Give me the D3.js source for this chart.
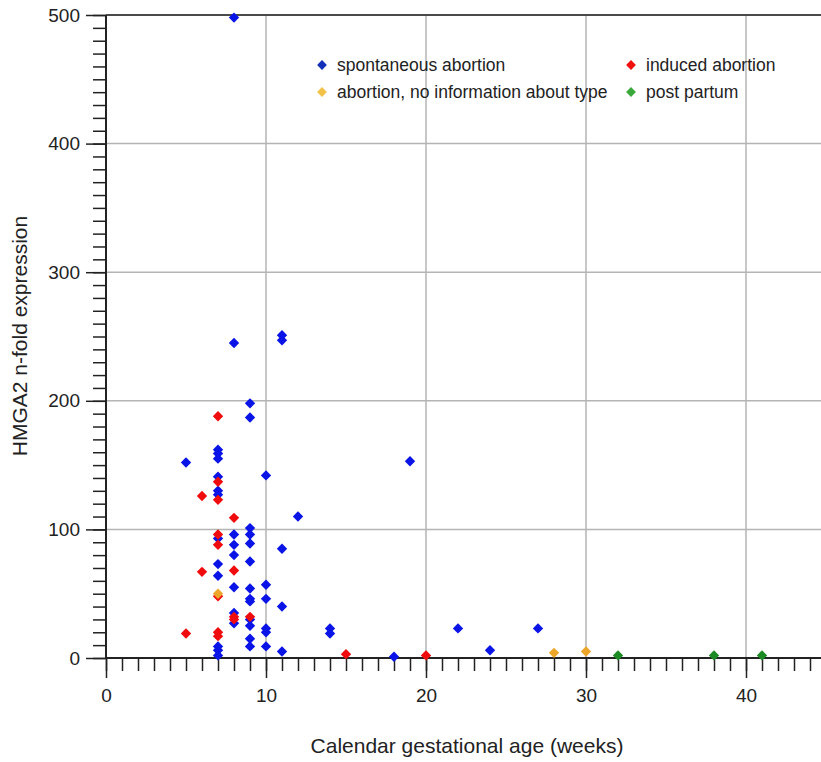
<!DOCTYPE html>
<html>
<head>
<meta charset="utf-8">
<script src="https://cdn.jsdelivr.net/npm/d3@7"></script>
<style>
  body { margin: 0; background: #fff; }
  svg { display: block; font-family: "Liberation Sans", Arial, sans-serif; }
</style>
</head>
<body>
<svg id="chart" width="821" height="762"></svg>
<script>
// [week, n-fold expression]
var spontaneous = [
    [5, 152],
    [7, 162], [7, 159], [7, 155], [7, 141], [7, 130], [7, 127], [7, 93], [7, 73], [7, 64], [7, 9], [7, 6], [7, 2],
    [8, 498], [8, 245], [8, 96], [8, 88], [8, 80], [8, 55], [8, 35], [8, 27],
    [9, 198], [9, 187], [9, 101], [9, 96], [9, 89], [9, 75], [9, 54], [9, 46], [9, 44], [9, 30], [9, 25], [9, 15], [9, 9],
    [10, 142], [10, 57], [10, 46], [10, 23], [10, 20], [10, 9],
    [11, 251], [11, 247], [11, 85], [11, 40], [11, 5],
    [12, 110], [14, 23], [14, 19], [18, 1], [19, 153], [22, 23], [24, 6], [27, 23]
];
var induced = [
    [5, 19], [6, 126], [6, 67],
    [7, 188], [7, 137], [7, 123], [7, 96], [7, 88], [7, 48], [7, 20], [7, 17],
    [8, 109], [8, 68], [8, 32], [8, 30],
    [9, 32], [15, 3], [20, 2]
];
var noInfo = [[7, 50], [28, 4], [30, 5]];
var postPartum = [[32, 2], [38, 2], [41, 2]];

var groupNames = ["spontaneous abortion", "induced abortion", "abortion, no information about type", "post partum"];
var groupColors = ["#0a14e6", "#f00c0c", "#eea62a", "#1b8a24"];
var legendColors = ["#1430b8", "#f01010", "#f2c248", "#3aa83a"];

var xMajor = [0, 10, 20, 30, 40];
var yMajor = [0, 100, 200, 300, 400, 500];

var svg = d3.select("#chart");
var x = d3.scaleLinear().domain([0, 44.6875]).range([106, 821]);
var y = d3.scaleLinear().domain([0, 500]).range([658, 15]);

// grid
var grid = svg.append("g");
grid.selectAll("line.vg")
    .data(xMajor.filter(function(d) { return d > 0; }))
    .enter().append("line")
    .attr("x1", function(d) { return x(d); })
    .attr("x2", function(d) { return x(d); })
    .attr("y1", y(500)).attr("y2", y(0))
    .attr("stroke", "#b4b4b4").attr("stroke-width", 1.5);
grid.selectAll("line.hg")
    .data(yMajor.filter(function(d) { return d > 0; }))
    .enter().append("line")
    .attr("x1", x(0)).attr("x2", 821)
    .attr("y1", function(d) { return y(d); })
    .attr("y2", function(d) { return y(d); })
    .attr("stroke", function(d) { return d == 500 ? "#4a4a4a" : "#b4b4b4"; })
    .attr("stroke-width", function(d) { return d == 500 ? 2 : 1.5; });

// axes
function styleAxis(g) {
    g.select(".domain").remove();
    g.selectAll("line").attr("stroke", "#222").attr("stroke-width", 1.5);
    g.selectAll("text").attr("fill", "#222").style("font-size", "19px");
}

var xAxisG = svg.append("g").attr("transform", "translate(0," + y(0) + ")");
xAxisG.append("g")
    .call(d3.axisBottom(x).tickValues(d3.range(0, 45)).tickSize(13).tickFormat(""))
    .call(styleAxis);
xAxisG.append("g")
    .call(d3.axisBottom(x).tickValues(xMajor).tickSize(20).tickPadding(11).tickFormat(d3.format("d")))
    .call(styleAxis);
xAxisG.append("line").attr("x1", x(0)).attr("x2", 821).attr("stroke", "#222").attr("stroke-width", 2);

var yAxisG = svg.append("g").attr("transform", "translate(" + x(0) + ",0)");
yAxisG.append("g")
    .call(d3.axisLeft(y).tickValues(d3.range(0, 501, 10)).tickSize(13).tickFormat(""))
    .call(styleAxis);
yAxisG.append("g")
    .call(d3.axisLeft(y).tickValues(yMajor).tickSize(20).tickPadding(6).tickFormat(d3.format("d")))
    .call(styleAxis);
yAxisG.append("line").attr("y1", y(0)).attr("y2", y(500)).attr("stroke", "#222").attr("stroke-width", 2);

// axis titles
svg.append("text")
    .attr("x", 467).attr("y", 753)
    .attr("text-anchor", "middle")
    .attr("fill", "#222")
    .style("font-size", "21px")
    .text("Calendar gestational age (weeks)");
svg.append("text")
    .attr("transform", "translate(27,336) rotate(-90)")
    .attr("text-anchor", "middle")
    .attr("fill", "#222")
    .style("font-size", "21px")
    .text("HMGA2 n-fold expression");

// points
var diamond = d3.symbol().type(d3.symbolSquare).size(54);
[spontaneous, induced, noInfo, postPartum].forEach(function(series, i) {
    svg.append("g").selectAll("path")
        .data(series)
        .enter().append("path")
        .attr("d", diamond)
        .attr("transform", function(d) {
            return "translate(" + x(d[0]) + "," + y(d[1]) + ") rotate(45)";
        })
        .attr("fill", groupColors[i]);
});

// legend
var legendPos = [[322, 65], [631, 65], [322, 92], [631, 92]];
var legend = svg.append("g");
groupNames.forEach(function(name, i) {
    var p = legendPos[i];
    legend.append("path")
        .attr("d", d3.symbol().type(d3.symbolSquare).size(48))
        .attr("transform", "translate(" + p[0] + "," + p[1] + ") rotate(45)")
        .attr("fill", legendColors[i]);
    legend.append("text")
        .attr("x", p[0] + 15).attr("y", p[1])
        .attr("dy", "0.35em")
        .attr("fill", "#222")
        .style("font-size", "17.5px")
        .text(name);
});
</script>
</body>
</html>
